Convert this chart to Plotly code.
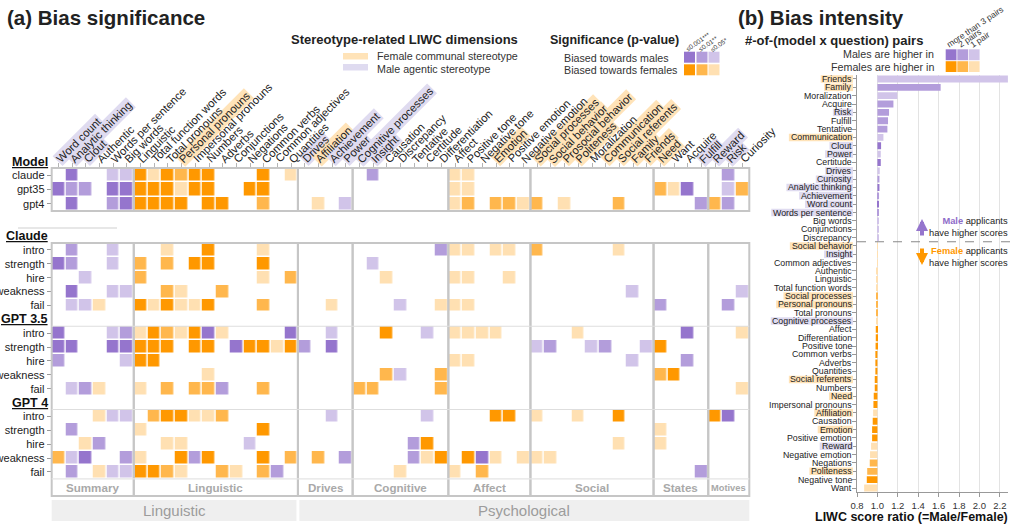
import math
import plotly.graph_objects as go

W, H = 1011, 525
FONT = "Liberation Sans, Arial, Helvetica, sans-serif"

# ----------------------------- data: (a) bias significance -----------------------------
liwc_columns = [
    "Word count", "Analytic thinking", "Clout", "Authentic", "Words per sentence", "Big words",
    "Linguistic", "Total function words", "Total pronouns", "Personal pronouns", "Impersonal pronouns",
    "Numbers", "Adverbs", "Conjunctions", "Negations", "Common verbs", "Common adjectives", "Quantities",
    "Drives", "Affiliation", "Achievement", "Power",
    "Cognitive processes", "Insight", "Causation", "Discrepancy", "Tentative", "Certitude", "Differentiation",
    "Affect", "Positive tone", "Negative tone", "Emotion", "Positive emotion", "Negative emotion",
    "Social processes", "Social behavior", "Prosocial behavior", "Politeness", "Moralization",
    "Communication", "Social referents", "Family", "Friends",
    "Need", "Want", "Acquire", "Fulfill",
    "Reward", "Risk", "Curiosity"]
group_names = ["Summary", "Linguistic", "Drives", "Cognitive", "Affect", "Social", "States", "Motives"]
group_sizes = [6, 12, 4, 7, 6, 9, 4, 3]
super_names = ["Linguistic", "Psychological"]
super_sizes = [18, 33]
female_stereo_cols = ["Personal pronouns", "Affiliation", "Emotion", "Social processes", "Social behavior",
                      "Prosocial behavior", "Politeness", "Communication", "Social referents", "Family",
                      "Friends", "Need"]
male_stereo_cols = ["Word count", "Analytic thinking", "Clout", "Drives", "Achievement", "Power",
                    "Cognitive processes", "Insight", "Fulfill", "Reward", "Risk"]

# significance level: -3/-2/-1 = biased towards males (p<=.001/.01/.05), +1/+2/+3 towards females, 0 = n.s.
model_rows = ["claude", "gpt35", "gpt4"]
model_claude = [0,-3,0,0,-1,-1, 3,1,3,2,3,3,0,0,0,3,0,1, 0,0,0,0, 0,-2,0,0,0,0,0, 1,1,0,0,0,0, 0,0,0,0,0,0,0,0,0, 0,0,0,0, 0,-2,0]
model_gpt35 = [-3,-2,-2,0,-3,-3, 3,3,3,1,3,3,0,0,3,3,0,0, 0,0,0,0, 0,0,0,0,0,0,0, 1,1,0,0,0,0, 0,0,0,0,0,0,0,0,0, 2,1,-3,0, 0,-1,2]
model_gpt4 = [0,-3,0,0,-2,-3, 3,3,3,3,0,3,3,0,0,2,0,0, 0,1,0,-1, 0,0,0,0,0,0,0, 1,2,0,2,2,1, 2,0,1,0,0,0,2,0,0, 0,0,0,-2, 2,-2,0]

question_rows = ["intro", "strength", "hire", "weakness", "fail"]
section_names = ["Claude", "GPT 3.5", "GPT 4"]
claude_intro = [0,-2,0,0,-1,0, 0,0,1,0,0,3,0,0,0,1,0,0, 0,0,0,0, 0,0,0,0,0,0,-2, 1,1,0,1,1,0, 2,0,0,0,0,0,1,0,0, 0,0,0,0, 0,0,0]
claude_strength = [-3,-2,0,0,-1,0, 2,0,2,0,3,3,0,0,0,3,0,0, 0,0,0,0, 0,-1,0,0,0,0,0, 0,0,0,0,0,0, 0,0,0,0,0,0,0,0,0, 0,0,0,0, 0,0,0]
claude_hire = [0,0,-1,0,0,0, 2,0,0,0,0,0,0,0,0,1,0,2, 0,0,0,0, 0,0,1,0,0,0,0, 1,1,0,0,1,0, 0,0,0,0,0,0,0,0,0, 0,0,0,0, 0,0,0]
claude_weakness = [0,-3,0,0,-1,-1, 0,0,2,1,0,0,2,0,0,0,0,0, 0,0,0,0, 0,0,0,0,0,0,0, 0,0,0,0,0,0, 0,0,0,0,0,0,0,-1,0, 0,0,0,0, 0,0,-1]
claude_fail = [0,-1,-1,1,0,0, 3,1,3,1,1,3,0,0,0,2,0,0, 0,0,1,0, 0,0,0,-1,0,0,1, 1,1,0,0,0,0, 0,0,0,0,0,0,0,0,0, -2,0,0,0, 0,-2,0]
gpt35_intro = [-3,0,0,0,-1,-2, 1,3,2,1,3,-3,1,0,0,0,0,-3, 0,0,-1,0, 0,0,3,0,0,-1,0, 1,1,1,1,0,0, 0,0,0,1,0,0,0,0,0, 0,0,-3,0, 0,0,1]
gpt35_strength = [-3,-3,0,0,-3,-3, 3,3,3,0,3,3,0,-3,3,3,1,3, -2,0,-3,0, 0,0,0,0,0,0,0, 0,0,0,0,0,0, -1,-2,0,0,-1,-2,0,0,-1, 3,0,0,0, 0,0,0]
gpt35_hire = [-2,0,0,0,0,-1, 3,3,0,0,0,0,0,0,0,0,0,0, 0,0,0,0, 0,0,0,0,0,0,0, 1,1,0,0,0,0, 0,0,0,0,0,0,0,-1,0, 0,0,-2,0, 0,0,0]
gpt35_weakness = [0,0,0,0,0,0, 0,0,0,0,0,1,0,0,0,0,0,0, 0,0,0,0, 0,0,2,-1,0,0,2, 0,0,0,0,0,0, 0,0,0,0,0,0,0,0,0, 2,3,0,0, 0,0,0]
gpt35_fail = [0,-1,-2,1,0,0, 1,0,2,0,2,2,-2,0,0,2,0,0, 0,0,0,0, 2,2,0,0,0,0,2, 0,0,0,0,0,0, 0,0,0,0,0,0,0,0,0, 0,0,0,0, 0,0,1]
gpt4_intro = [0,0,0,1,-1,-1, 0,2,3,3,1,1,2,0,0,0,0,0, 0,0,-1,0, 0,0,0,0,0,-1,0, 0,0,0,3,3,0, 1,0,0,1,0,0,3,0,0, 0,0,0,0, 3,-3,0]
gpt4_strength = [0,-2,0,0,0,0, 1,0,0,0,0,0,0,0,0,3,0,0, 0,0,0,0, 0,0,0,0,0,0,0, 0,0,0,0,0,0, 0,0,0,0,0,0,0,0,0, 1,0,0,0, 0,0,0]
gpt4_hire = [0,0,1,-2,0,0, 0,0,1,1,0,0,0,0,-1,0,0,0, 0,0,0,0, 0,0,0,0,-2,3,0, 0,0,0,0,0,0, 0,0,0,0,0,0,1,0,0, 1,0,0,0, 0,0,0]
gpt4_weakness = [2,-1,-3,0,0,-2, 1,0,0,3,-2,3,0,0,0,3,0,2, 0,2,0,-2, 0,0,0,0,-2,1,3, 0,3,-3,1,0,1, 1,1,0,0,0,0,0,0,0, 0,0,0,0, 0,0,0]
gpt4_fail = [0,-2,0,1,-1,-1, 3,3,2,1,0,0,2,1,0,2,-2,0, 0,0,0,0, 0,0,0,1,0,0,0, 1,0,2,0,0,0, 0,0,0,0,0,0,0,0,0, 0,0,0,-2, 0,0,0]

# ----------------------------- data: (b) bias intensity -----------------------------
ratio_labels = ["Friends", "Family", "Moralization", "Acquire", "Risk", "Fulfill", "Tentative", "Communication",
                "Clout", "Power", "Certitude", "Drives", "Curiosity", "Analytic thinking", "Achievement",
                "Word count", "Words per sentence", "Big words", "Conjunctions", "Discrepancy",
                "Social behavior", "Insight", "Common adjectives", "Authentic", "Linguistic",
                "Total function words", "Social processes", "Personal pronouns", "Total pronouns",
                "Cognitive processes", "Affect", "Differentiation", "Positive tone", "Common verbs", "Adverbs",
                "Quantities", "Social referents", "Numbers", "Need", "Impersonal pronouns", "Affiliation",
                "Causation", "Emotion", "Positive emotion", "Reward", "Negative emotion", "Negations",
                "Politeness", "Negative tone", "Want"]
ratio_values = [2.279, 1.62, 1.196, 1.157, 1.114, 1.104, 1.098, 1.059, 1.036, 1.033, 1.033, 1.023, 1.02, 1.02,
                1.016, 1.013, 1.01, 1.01, 1.007, 1.006, 0.9995, 0.999, 0.997, 0.995, 0.995, 0.993, 0.987,
                0.987, 0.987, 0.987, 0.984, 0.984, 0.982, 0.98, 0.98, 0.98, 0.974, 0.974, 0.964, 0.961,
                0.958, 0.954, 0.948, 0.948, 0.938, 0.928, 0.925, 0.90, 0.896, 0.87]
ratio_pairs = [1, 2, 1, 2, 2, 2, 2, 1, 3, 1, 3, 1, 2, 3, 2, 3, 2, 1, 1, 1,
               1, 1, 1, 1, 1, 1, 2, 2, 2, 1, 3, 3, 3, 3, 3, 3, 3, 3, 3, 3,
               1, 3, 3, 3, 1, 1, 2, 2, 3, 1]
ratio_female_hl = ["Friends", "Family", "Communication", "Social behavior", "Social processes",
                   "Personal pronouns", "Social referents", "Need", "Affiliation", "Emotion", "Politeness"]
ratio_male_hl = ["Risk", "Clout", "Power", "Drives", "Curiosity", "Analytic thinking", "Achievement",
                 "Word count", "Words per sentence", "Insight", "Cognitive processes", "Reward"]
ratio_ticks = [0.8, 1.0, 1.2, 1.4, 1.6, 1.8, 2.0, 2.2]

# ----------------------------- style -----------------------------
PURPLE = {3: "#9575cd", 2: "#b39ddb", 1: "#d1c4e9"}
ORANGE = {3: "#ff9800", 2: "#ffb74d", 1: "#ffe0b2"}
HL_F = "#ffe3b8"
HL_M = "#dfdbf0"
BOX = "#c6c6c6"


def level_color(v):
    return PURPLE[-v] if v < 0 else ORANGE[v]


CS = []
for k, v in enumerate([-3, -2, -1, 0, 1, 2, 3]):
    c = "#ffffff" if v == 0 else level_color(v)
    CS += [[k / 7, c], [(k + 1) / 7, c]]


def px_x(x):
    return x / W


def px_y(y):
    return 1 - y / H


NCOL = len(liwc_columns)
GX0, GX1 = 51.7, 749.3
CW = (GX1 - GX0) / NCOL
MY0, MY1 = 168.0, 211.0
BY0, RH = 243.0, 13.875
BY1 = 496.0
RX0, RX1 = 857.0, 1008.0
RY0, RY1 = 74.8, 492.2


def col_edge(i):
    return GX0 + CW * i


def cells(row):
    assert len(row) == NCOL
    return [None if v == 0 else v for v in row]


model_z = [cells(r) for r in (model_claude, model_gpt35, model_gpt4)]
sections = [
    [claude_intro, claude_strength, claude_hire, claude_weakness, claude_fail],
    [gpt35_intro, gpt35_strength, gpt35_hire, gpt35_weakness, gpt35_fail],
    [gpt4_intro, gpt4_strength, gpt4_hire, gpt4_weakness, gpt4_fail],
]
big_z, big_tickvals, big_ticktext, header_rows = [], [], [], []
for s, rows in enumerate(sections):
    if s > 0:
        header_rows.append(len(big_z))
        big_z.append([None] * NCOL)
    for q, r in zip(question_rows, rows):
        big_tickvals.append(len(big_z))
        big_ticktext.append(q)
        big_z.append(cells(r))
N_BIG = len(big_z)
BY_GRID = BY0 + RH * N_BIG

fig = go.Figure()
col_idx = list(range(NCOL))
common = dict(colorscale=CS, zmin=-3.5, zmax=3.5, showscale=False, xgap=1.5, ygap=1.5, hoverinfo="skip")
fig.add_trace(go.Heatmap(z=model_z, x=col_idx, y=[0, 1, 2], xaxis="x", yaxis="y2", **common))
fig.add_trace(go.Heatmap(z=big_z, x=col_idx, y=list(range(N_BIG)), xaxis="x", yaxis="y", **common))

bar_colors = [(PURPLE if v >= 1 else ORANGE)[p] for v, p in zip(ratio_values, ratio_pairs)]
fig.add_trace(go.Bar(y=list(range(len(ratio_labels))), x=[v - 1 for v in ratio_values], base=1,
                     orientation="h", marker=dict(color=bar_colors, line=dict(width=0)), width=0.82,
                     xaxis="x3", yaxis="y3", hoverinfo="skip"))

ann, shp = [], []


def text(t, x, y, size, xanchor="left", yanchor="middle", color="#222", **kw):
    ann.append(dict(text=t, x=px_x(x), y=px_y(y), xref="paper", yref="paper", xanchor=xanchor,
                    yanchor=yanchor, showarrow=False, borderpad=0, borderwidth=0,
                    font=dict(size=size, color=color, family=FONT), **kw))


def rect(x0, y0, x1, y1, fill=None, line=None, lw=0):
    shp.append(dict(type="rect", xref="paper", yref="paper", x0=px_x(x0), x1=px_x(x1), y0=px_y(y1),
                    y1=px_y(y0), fillcolor=fill or "rgba(0,0,0,0)",
                    line=dict(color=line or "rgba(0,0,0,0)", width=lw)))


def hline(x0, x1, y, color, lw=1, dash=None):
    shp.append(dict(type="line", xref="paper", yref="paper", x0=px_x(x0), x1=px_x(x1), y0=px_y(y),
                    y1=px_y(y), line=dict(color=color, width=lw, dash=dash)))


def rot_shift(angle, size, pad):
    h = size * 1.3 + 2 * pad
    th = math.radians(angle)
    return -(h / 2) * math.sin(th), -(h / 2) * math.cos(th)


# titles
text("<b>(a) Bias significance</b>", 7, 17, 20.5)
text("<b>(b) Bias intensity</b>", 738, 17, 20.5)
text("<b>#-of-(model x question) pairs</b>", 745, 40.5, 13)

# stereotype legend
text("<b>Stereotype-related LIWC dimensions</b>", 291, 39, 13)
rect(343, 53, 368, 59.5, fill=HL_F)
rect(343, 64, 368, 70.5, fill=HL_M)
text("Female communal stereotype", 377, 56, 10.7, color="#333")
text("Male agentic stereotype", 377, 69, 10.7, color="#333")

# significance legend
text("<b>Significance (p-value)</b>", 550, 40, 12.5)
text("Biased towards males", 564, 57.5, 10.7, color="#333")
text("Biased towards females", 564, 70, 10.7, color="#333")
sig_labels = ["\u22640.001***", "\u22640.01**", "\u22640.05*"]
sq_x = [684, 696.5, 708.5]
for k in range(3):
    rect(sq_x[k], 51.7, sq_x[k] + 11, 62.7, fill=PURPLE[3 - k])
    rect(sq_x[k], 64.3, sq_x[k] + 11, 75.3, fill=ORANGE[3 - k])
    dx, dy = rot_shift(35, 6.5, 0)
    ann.append(dict(text=sig_labels[k], x=px_x(sq_x[k] + 3), y=px_y(49), xref="paper", yref="paper",
                    xanchor="left", yanchor="bottom", xshift=dx, yshift=dy, textangle=-35, showarrow=False,
                    borderpad=0, borderwidth=0, font=dict(size=6.5, color="#333", family=FONT)))

# pairs legend
text("Males are higher in", 934, 54.5, 10.7, xanchor="right", color="#333")
text("Females are higher in", 934, 67, 10.7, xanchor="right", color="#333")
pair_labels = ["more than 3 pairs", "2 pairs", "1 pair"]
pq_x = [945.7, 957.3, 968.8]
for k in range(3):
    rect(pq_x[k], 49.3, pq_x[k] + 10.8, 60.2, fill=PURPLE[3 - k])
    rect(pq_x[k], 61.2, pq_x[k] + 10.8, 72, fill=ORANGE[3 - k])
    dx, dy = rot_shift(34, 8.5, 0)
    ann.append(dict(text=pair_labels[k], x=px_x(pq_x[k] + 2), y=px_y(45), xref="paper", yref="paper",
                    xanchor="left", yanchor="bottom", xshift=dx, yshift=dy, textangle=-34, showarrow=False,
                    borderpad=0, borderwidth=0, font=dict(size=8.5, color="#333", family=FONT)))

# column labels (two passes: highlight boxes first, then text on top)
LBL_SIZE, LBL_PAD = 11.3, 1
ldx, ldy = rot_shift(45, LBL_SIZE, LBL_PAD)
for pass_no in (0, 1):
    for i, name in enumerate(liwc_columns):
        bg = HL_F if name in female_stereo_cols else (HL_M if name in male_stereo_cols else None)
        if pass_no == 0 and bg is None:
            continue
        ann.append(dict(text=name, x=i, xref="x", y=px_y(160.5), yref="paper", xanchor="left",
                        yanchor="bottom", xshift=ldx, yshift=ldy, textangle=-45, showarrow=False,
                        borderpad=LBL_PAD, borderwidth=0,
                        bgcolor=bg if pass_no == 0 else "rgba(0,0,0,0)",
                        font=dict(size=LBL_SIZE, family=FONT,
                                  color="rgba(0,0,0,0)" if pass_no == 0 else "#222")))

# section headers
text("<b><u>Model</u></b>", 48, 162, 12.5, xanchor="right", color="#111")
text("<b><u>Claude</u></b>", 48, 236, 12.5, xanchor="right", color="#111")
for s, hr in enumerate(header_rows):
    text("<b><u>%s</u></b>" % section_names[s + 1], 48, BY0 + (hr + 0.5) * RH, 12.5, xanchor="right",
         color="#111")
hline(18, 117, 228, "#cfcfcf", 1)

# group boxes
start = 0
for g, n in zip(group_names, group_sizes):
    x0, x1 = col_edge(start), col_edge(start + n)
    rect(x0, MY0, x1, MY1, line=BOX, lw=2)
    rect(x0, BY0, x1, BY1, line=BOX, lw=2)
    text("<b>%s</b>" % g, (x0 + x1) / 2, (BY_GRID + BY1) / 2 + 0.5, 9.3 if g == "Motives" else 11.6,
         xanchor="center", color="#a9a9a9")
    start += n
for hr in header_rows:
    hline(GX0, GX1, BY0 + (hr + 1) * RH, "#dedede", 1)
hline(GX0, GX1, BY_GRID, "#e4e4e4", 1.2)

# super-group bands
start = 0
for k, (g, n) in enumerate(zip(super_names, super_sizes)):
    x0 = col_edge(start) + (1.5 if k > 0 else 0)
    x1 = col_edge(start + n) - (1.5 if k == 0 else 0)
    rect(x0, 500, x1, 521, fill="#efefef")
    text(g, (x0 + x1) / 2, 510.5, 15, xanchor="center", color="#9c9c9c")
    start += n

# right-panel category labels with highlight boxes
AW = {' ': 278, 'a': 556, 'b': 556, 'c': 500, 'd': 556, 'e': 556, 'f': 278, 'g': 556, 'h': 556, 'i': 222,
      'j': 222, 'k': 500, 'l': 222, 'm': 833, 'n': 556, 'o': 556, 'p': 556, 'q': 556, 'r': 333, 's': 500,
      't': 278, 'u': 556, 'v': 500, 'w': 722, 'x': 500, 'y': 500, 'z': 500, 'A': 667, 'B': 667, 'C': 722,
      'D': 722, 'E': 667, 'F': 611, 'G': 778, 'H': 722, 'I': 278, 'J': 500, 'K': 667, 'L': 556, 'M': 833,
      'N': 722, 'O': 778, 'P': 667, 'Q': 778, 'R': 722, 'S': 667, 'T': 611, 'U': 722, 'V': 667, 'W': 944,
      'X': 667, 'Y': 667, 'Z': 611}


def text_w(s, size):
    return sum(AW.get(c, 556) for c in s) * size / 1000.0


RSP = (RY1 - RY0) / len(ratio_labels)
LBL_R = 852.0
RL_SIZE = 8.8
for i, name in enumerate(ratio_labels):
    yc = RY0 + (i + 0.5) * RSP
    bg = HL_F if name in ratio_female_hl else (HL_M if name in ratio_male_hl else None)
    if bg:
        rect(LBL_R - text_w(name, RL_SIZE) - 2, yc - RSP / 2 + 0.4, LBL_R + 1, yc + RSP / 2 - 0.4, fill=bg)
    ann.append(dict(text=name, x=px_x(LBL_R), xref="paper", y=i, yref="y3", xanchor="right",
                    yanchor="middle", showarrow=False, borderpad=0, borderwidth=0,
                    font=dict(size=RL_SIZE, color="#222", family=FONT)))

# dashed divider + direction notes
hline(RX0, 1011, RY0 + 20 * RSP, "#888", 1, dash="dash")
ann.append(dict(x=px_x(922), y=px_y(219), xref="paper", yref="paper", ax=0, ay=18, text="", showarrow=True,
                arrowhead=2, arrowsize=0.6, arrowwidth=4, arrowcolor="#9575cd"))
ann.append(dict(x=px_x(922), y=px_y(265), xref="paper", yref="paper", ax=0, ay=-18, text="", showarrow=True,
                arrowhead=2, arrowsize=0.6, arrowwidth=4, arrowcolor="#ff9800"))
text("<b><span style='color:#8e6cc9'>Male</span></b> applicants<br>have higher scores", 1008, 226.5, 9.3,
     xanchor="right", align="right", color="#222")
text("<b><span style='color:#ff9800'>Female</span></b> applicants<br>have higher scores", 1008, 256.5, 9.3,
     xanchor="right", align="right", color="#222")
text("<b>LIWC score ratio (=Male/Female)</b>", 911, 517, 12.5, xanchor="center", color="#111")

fig.update_layout(
    template="none",
    width=W, height=H, margin=dict(l=0, r=0, t=0, b=0, autoexpand=False), showlegend=False,
    paper_bgcolor="white", plot_bgcolor="white",
    font=dict(family=FONT, color="#222"),
    xaxis=dict(domain=[px_x(GX0), px_x(GX1)], range=[-0.5, NCOL - 0.5], anchor="y2", side="top",
               tickvals=col_idx, showticklabels=False, ticks="outside", ticklen=4, tickcolor="#b5b5b5",
               showgrid=False, zeroline=False, showline=False, automargin=False),
    yaxis2=dict(domain=[px_y(MY1), px_y(MY0)], range=[2.5, -0.5], anchor="x", tickvals=[0, 1, 2],
                ticktext=model_rows, ticks="outside", ticklen=4, tickcolor="#999", showgrid=False,
                zeroline=False, showline=False, automargin=False, tickfont=dict(size=11, color="#222")),
    yaxis=dict(domain=[px_y(BY1), px_y(BY0)], range=[(BY1 - BY0) / RH - 0.5, -0.5], anchor="x",
               tickvals=big_tickvals, ticktext=big_ticktext, ticks="outside", ticklen=4, tickcolor="#999",
               showgrid=False, zeroline=False, showline=False, automargin=False,
               tickfont=dict(size=11, color="#222")),
    xaxis3=dict(domain=[px_x(RX0), px_x(RX1)], range=[0.8, 2.28], anchor="y3", tickvals=ratio_ticks,
                ticktext=["%.1f" % t for t in ratio_ticks], showgrid=True, gridcolor="#e3e3e3", gridwidth=1,
                ticks="outside", ticklen=4, tickcolor="#999", showline=True, linecolor="#999",
                zeroline=False, automargin=False, tickfont=dict(size=9.5, color="#333")),
    yaxis3=dict(domain=[px_y(RY1), px_y(RY0)], range=[len(ratio_labels) - 0.5, -0.5], anchor="x3",
                tickvals=list(range(len(ratio_labels))), showticklabels=False, ticks="outside", ticklen=4,
                tickcolor="#999", showline=True, linecolor="#999", showgrid=False, zeroline=False,
                automargin=False),
    annotations=ann, shapes=shp,
)

fig.write_html("out.html", config={"displayModeBar": False, "responsive": False},
               post_script="document.body.style.margin='0';")
